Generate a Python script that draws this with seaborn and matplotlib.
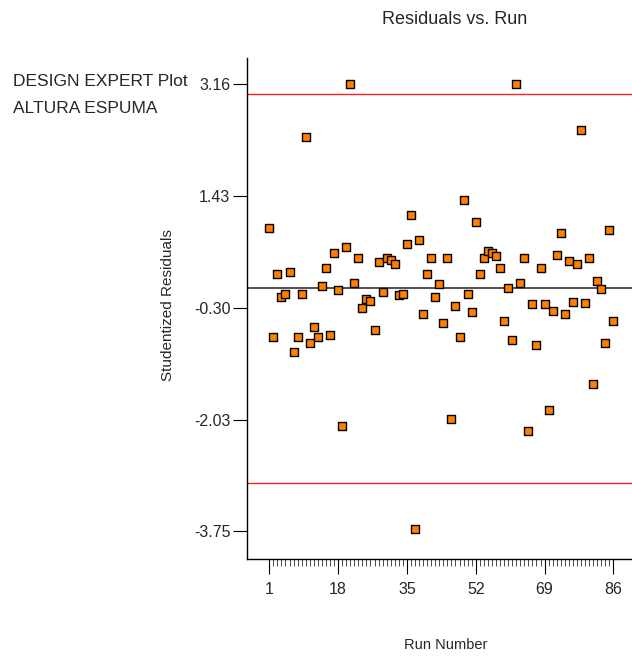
import matplotlib
matplotlib.use("Agg")
import matplotlib.pyplot as plt
import seaborn as sns
import pandas as pd
from matplotlib.ticker import FixedLocator

runs = list(range(1, 87))
residuals = [
    0.93, -0.75, 0.23, -0.13, -0.08, 0.25, -0.98, -0.75, -0.08, 2.34,
    -0.84, -0.60, -0.75, 0.04, 0.31, -0.72, 0.54, -0.03, -2.12, 0.64,
    3.16, 0.09, 0.47, -0.30, -0.16, -0.20, -0.635, 0.415, -0.06, 0.47,
    0.44, 0.37, -0.10, -0.08, 0.69, 1.13, -3.72, 0.75, -0.39, 0.22,
    0.47, -0.13, 0.07, -0.54, 0.47, -2.01, -0.27, -0.75, 1.36, -0.08,
    -0.37, 1.03, 0.22, 0.47, 0.585, 0.54, 0.50, 0.31, -0.51, 0.00,
    -0.79, 3.16, 0.09, 0.47, -2.20, -0.24, -0.87, 0.32, -0.24, -1.88,
    -0.35, 0.51, 0.85, -0.39, 0.43, -0.21, 0.385, 2.45, -0.22, 0.47,
    -1.48, 0.12, -0.01, -0.84, 0.90, -0.51,
]
y_ticks = [3.16, 1.43, -0.30, -2.03, -3.75]
y_tick_labels = ["3.16", "1.43", "-0.30", "-2.03", "-3.75"]
x_ticks = [1, 18, 35, 52, 69, 86]
limit_lines = [3.0, -3.0]
center_line = 0.0

df = pd.DataFrame({"Run Number": runs, "Studentized Residuals": residuals})

sns.set_theme(style="white")
plt.rcParams["font.family"] = ["Liberation Sans", "DejaVu Sans"]

fig = plt.figure(figsize=(6.32, 6.58), dpi=100)
ax = fig.add_axes([247 / 632, 1 - 559 / 658, 1 - 247 / 632, (559 - 58) / 658])

for v in limit_lines:
    ax.axhline(v, color="#ff2020", lw=1.0, zorder=1)
ax.axhline(center_line, color="#333333", lw=1.2, zorder=1)

sns.scatterplot(data=df, x="Run Number", y="Studentized Residuals", ax=ax,
                marker="s", s=38, color="#ff8000", edgecolor="black",
                linewidth=1.0, zorder=3, legend=False)

ax.set_xlim(-4.5, 90.6)
ax.set_ylim(-4.18, 3.56)
ax.set_xticks(x_ticks)
ax.set_xticklabels([str(t) for t in x_ticks])
ax.xaxis.set_minor_locator(FixedLocator(runs))
ax.set_yticks(y_ticks)
ax.set_yticklabels(y_tick_labels)

for s in ["top", "right"]:
    ax.spines[s].set_visible(False)
for s in ["left", "bottom"]:
    ax.spines[s].set_color("black")
    ax.spines[s].set_linewidth(1.0)

ax.tick_params(axis="x", which="major", direction="out", length=10.5, width=0.8,
               color="black", labelsize=11.5, pad=6, bottom=True)
ax.tick_params(axis="x", which="minor", direction="out", length=5, width=0.5,
               color="black", bottom=True)
ax.tick_params(axis="y", which="major", direction="out", length=10, width=0.8,
               color="black", labelsize=11.5, pad=2, left=True)

ax.set_xlabel("")
ax.set_ylabel("")
fig.text(446 / 632, 1 - 645 / 658, "Run Number", ha="center", va="center", fontsize=10.5)
fig.text(168 / 632, 1 - 305 / 658, "Studentized Residuals", ha="center", va="center",
         rotation=90, fontsize=11)
fig.text(455 / 632, 1 - 20 / 658, "Residuals vs. Run", ha="center", va="center", fontsize=13)
fig.text(13 / 632, 1 - 74 / 658, "DESIGN EXPERT Plot", ha="left", va="top", fontsize=12.5)
fig.text(13 / 632, 1 - 101 / 658, "ALTURA ESPUMA", ha="left", va="top", fontsize=12.5)

fig.savefig("out.png", dpi=100)
